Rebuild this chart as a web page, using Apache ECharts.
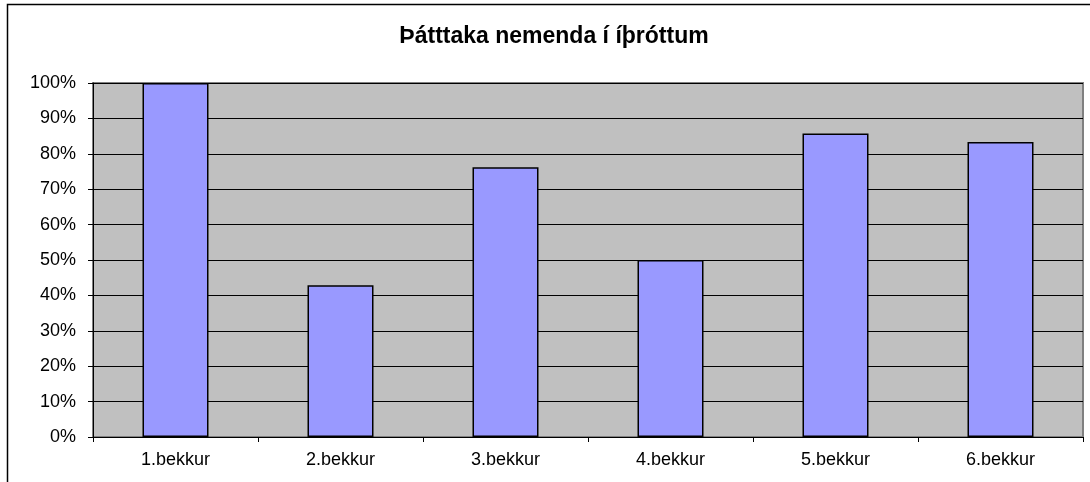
<!DOCTYPE html>
<html><head><meta charset="utf-8">
<script src="https://cdn.jsdelivr.net/npm/echarts@6/dist/echarts.min.js"></script>
<style>html,body{margin:0;padding:0;background:#fff}#c{width:1090px;height:482px}</style>
</head><body><div id="c"></div>
<script>
const categories = ['1.bekkur','2.bekkur','3.bekkur','4.bekkur','5.bekkur','6.bekkur'];
const values = [100, 42.9, 76.2, 50, 85.7, 83.3];
const yTicks = [0,10,20,30,40,50,60,70,80,90,100];
const chart = echarts.init(document.getElementById('c'), null, {renderer:'canvas'});
chart.setOption({
  animation:false,
  title:{text:'Þátttaka nemenda í íþróttum', left:549, top:20, textAlign:'center',
    textStyle:{fontFamily:'Liberation Sans, Arial', fontWeight:'bold', fontSize:23, color:'#000'}},
  graphic:[
    {type:'rect', shape:{x:7.5,y:4.5,width:1100,height:500}, style:{fill:'none',stroke:'#000',lineWidth:1.5}, z:-10},
    {type:'rect', shape:{x:93,y:83,width:990,height:354}, style:{fill:'#C0C0C0',stroke:'#808080',lineWidth:2}, z:-5}
  ],
  grid:{left:93, top:83, width:990, height:354},
  xAxis:{type:'category', data:categories,
    axisLine:{lineStyle:{color:'#000',width:1}},
    axisTick:{show:true, alignWithLabel:false, length:5, lineStyle:{color:'#000'}},
    axisLabel:{fontFamily:'Liberation Sans, Arial', fontSize:18, color:'#000', margin:14}},
  yAxis:{type:'value', min:0, max:100, interval:10,
    axisLine:{show:true, lineStyle:{color:'#000',width:1}},
    axisTick:{show:true, length:5, lineStyle:{color:'#000'}},
    splitLine:{lineStyle:{color:'#000',width:1}},
    axisLabel:{fontFamily:'Liberation Sans, Arial', fontSize:18, color:'#000', margin:17,
      formatter:v=>yTicks.includes(v)?v+'%':''}},
  series:[{type:'bar', data:values, barCategoryGap:'60%',
    itemStyle:{color:'#9999FF', borderColor:'#000', borderWidth:1.5}}]
});
</script></body></html>
